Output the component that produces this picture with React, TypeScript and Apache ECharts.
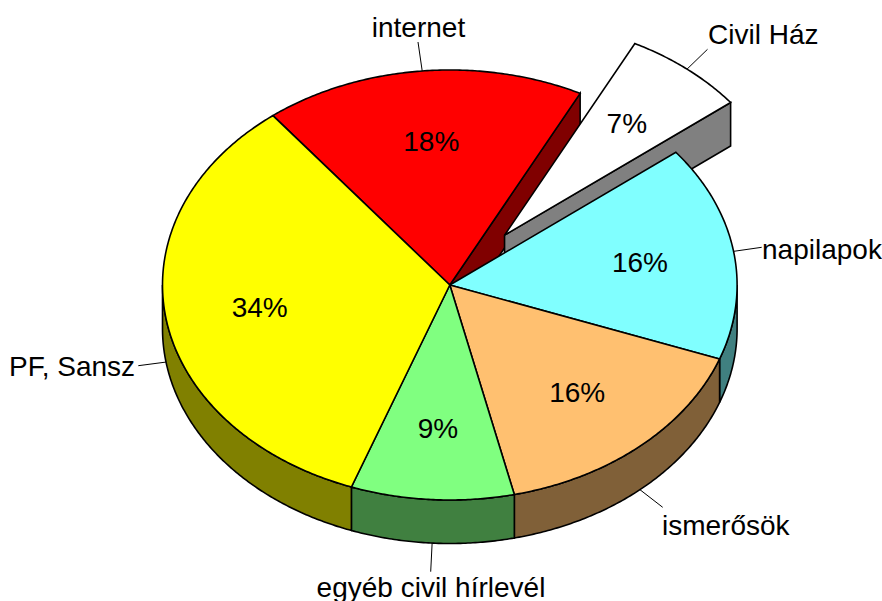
import React, { useEffect, useRef } from "react";
import * as echarts from "echarts";

const categories = ["internet", "Civil Ház", "napilapok", "ismerősök", "egyéb civil hírlevél", "PF, Sansz"];
const percentages = [18.05, 6.92, 16.17, 15.81, 9.17, 33.88];
const exploded = [0, 0.3, 0, 0, 0, 0];
const topColors = ["#FF0000", "#FFFFFF", "#80FFFF", "#FFC070", "#80FF80", "#FFFF00"];
const wallColors = ["#800000", "#808080", "#408080", "#806038", "#408040", "#808000"];

// layout of the pie drawing
const CX = 449.8;
const CY = 285;
const RX = 287.3;
const RY = 215;
const DEPTH = 43.5;
const START_ANGLE = -38;
const PERCENT_RADIUS = 0.67;
const FONT = "Liberation Sans";
const FONT_SIZE = 28;
const STROKE = 1.6;

// end of each leader line, and where its label stands
const leaderEnds: number[][] = [[418, 42], [707.5, 49.3], [761.7, 247.3], [662.7, 507.3], [430.7, 571.7], [138.3, 365.7]];
const labelAnchors: any[][] = [
  [418.5, 27, "center"],
  [708, 34, "left"],
  [762, 249, "left"],
  [662, 525, "left"],
  [431, 587, "center"],
  [9, 366, "left"],
];

const rad = (d: number) => (d * Math.PI) / 180;
const total = percentages.reduce((a, b) => a + b, 0);
const angles = percentages.map((_, i) => {
  const before = percentages.slice(0, i).reduce((a, b) => a + b, 0);
  return [START_ANGLE + (before / total) * 360, START_ANGLE + ((before + percentages[i]) / total) * 360];
});

const center = (i: number) => {
  const mid = rad((angles[i][0] + angles[i][1]) / 2);
  return [CX + RX * exploded[i] * Math.sin(mid), CY - RY * exploded[i] * Math.cos(mid)];
};
const rim = (c: number[], deg: number, k = 1, down = 0) => [
  c[0] + RX * k * Math.sin(rad(deg)),
  c[1] - RY * k * Math.cos(rad(deg)) + down,
];
const arc = (c: number[], a: number, b: number, down = 0) => {
  const n = Math.max(2, Math.ceil(Math.abs(b - a) * 2));
  const pts: number[][] = [];
  for (let j = 0; j <= n; j++) pts.push(rim(c, a + ((b - a) * j) / n, 1, down));
  return pts;
};
const outline = { stroke: "#000", lineWidth: STROKE, lineJoin: "miter" };
const poly = (points: number[][], fill: string) => ({
  type: "polygon",
  shape: { points },
  style: { fill, ...outline },
});

const renderWalls = (params: any) => {
  const i = params.dataIndex;
  const c = center(i);
  const [a0, a1] = angles[i];
  const children: any[] = [];
  const next = (i + 1) % percentages.length;
  // cut face, visible only where the neighbour has been pulled away
  if (exploded[i] !== exploded[next] && Math.sin(rad(a1)) > 0) {
    const e = rim(c, a1);
    children.push(poly([c, e, [e[0], e[1] + DEPTH], [c[0], c[1] + DEPTH]], wallColors[i]));
  }
  // outer wall, visible between 90 and 270 degrees
  const s = Math.max(a0, 90);
  const t = Math.min(a1, 270);
  if (t > s) {
    children.push(poly([...arc(c, s, t), ...arc(c, t, s, DEPTH)], wallColors[i]));
  }
  return { type: "group", children };
};

const renderTops = (params: any) => {
  const i = params.dataIndex;
  const c = center(i);
  return poly([c, ...arc(c, angles[i][0], angles[i][1])], topColors[i]);
};

const textStyle = (text: string, x: number, y: number, align: string) => ({
  text,
  x,
  y,
  align,
  verticalAlign: "middle",
  fill: "#000",
  fontSize: FONT_SIZE,
  fontFamily: FONT,
});

const renderLabels = (params: any, api: any) => {
  const i = params.dataIndex;
  const c = center(i);
  const mid = (angles[i][0] + angles[i][1]) / 2;
  const onWall = Math.cos(rad(mid)) < 0 && exploded[i] === 0;
  const from = rim(c, mid, 1, onWall ? DEPTH : 0);
  const inner = rim(c, mid, PERCENT_RADIUS);
  const [lx, ly, align] = labelAnchors[i];
  return {
    type: "group",
    children: [
      {
        type: "line",
        shape: { x1: from[0], y1: from[1], x2: leaderEnds[i][0], y2: leaderEnds[i][1] },
        style: { stroke: "#000", lineWidth: 1 },
      },
      { type: "text", style: textStyle(categories[i], lx, ly, align) },
      { type: "text", style: textStyle(`${Math.round(api.value(0))}%`, inner[0], inner[1], "center") },
    ],
  };
};

export default function App() {
  const ref = useRef<HTMLDivElement>(null);
  useEffect(() => {
    document.body.style.margin = "0";
    const chart = echarts.init(ref.current!, null, { renderer: "svg" });
    const data = categories.map((name, i) => ({ name, value: percentages[i] }));
    const base = { type: "custom", coordinateSystem: "none", silent: true, data };
    chart.setOption({
      animation: false,
      backgroundColor: "#fff",
      series: [
        { ...base, name: "walls", z: 1, renderItem: renderWalls },
        { ...base, name: "tops", z: 2, renderItem: renderTops },
        { ...base, name: "labels", z: 3, renderItem: renderLabels },
      ],
    });
    return () => chart.dispose();
  }, []);
  return <div ref={ref} style={{ width: 882, height: 601 }} />;
}
